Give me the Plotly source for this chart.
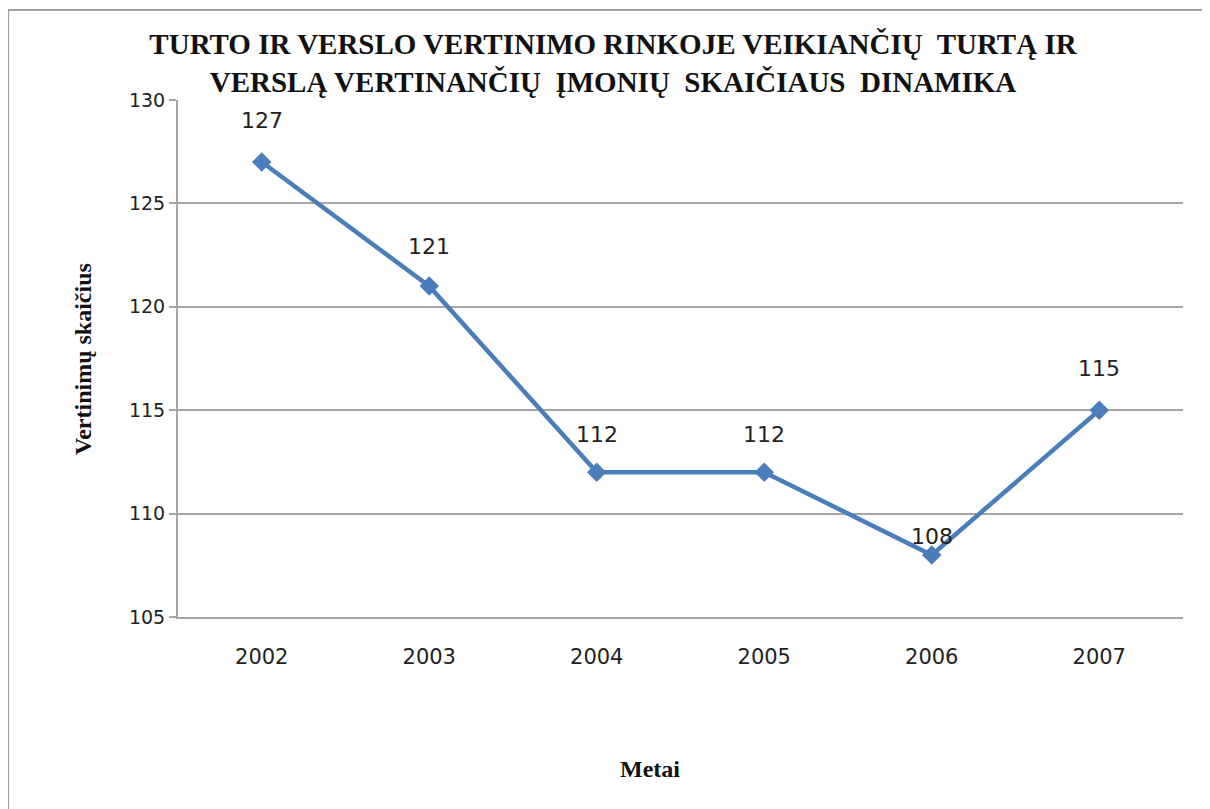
""" Turto ir verslo vertinimo imoniu skaiciaus dinamika """

from plotly import graph_objects as go

years = ["2002", "2003", "2004", "2005", "2006", "2007"]
counts = [127, 121, 112, 112, 108, 115]
y_ticks = [105, 110, 115, 120, 125, 130]

title_text = (
    "TURTO IR VERSLO VERTINIMO RINKOJE VEIKIANČIŲ  TURTĄ IR<br>"
    "VERSLĄ VERTINANČIŲ  ĮMONIŲ  SKAIČIAUS  DINAMIKA"
)
y_title = "Vertinimų skaičius"
x_title = "Metai"

# label offsets above the point (px)
label_shift = [42, 40, 38, 38, 18, 42]

LINE_BLUE = "#4A7EBB"
GRID = "#A6A6A6"
SERIF = "Liberation Serif"
SANS = "DejaVu Sans"

x_pos = list(range(len(years)))

fig = go.Figure()
fig.add_trace(
    go.Scatter(
        x=x_pos,
        y=counts,
        mode="lines+markers",
        line=dict(color=LINE_BLUE, width=4.5),
        marker=dict(symbol="diamond", size=15, color=LINE_BLUE),
        showlegend=False,
        hoverinfo="skip",
    )
)

annotations = [
    dict(
        x=xp,
        y=val,
        text=str(val),
        showarrow=False,
        yshift=shift,
        font=dict(family=SANS, size=22, color="#222222"),
    )
    for xp, val, shift in zip(x_pos, counts, label_shift)
]
annotations.append(
    dict(
        text=f"<b>{y_title}</b>",
        xref="paper",
        yref="paper",
        x=-0.11,
        y=0.5,
        textangle=-90,
        showarrow=False,
        font=dict(family=SERIF, size=24, color="#111111"),
    )
)
annotations.append(
    dict(
        text=f"<b>{x_title}</b>",
        xref="paper",
        yref="paper",
        x=0.47,
        y=-0.323,
        showarrow=False,
        font=dict(family=SERIF, size=24, color="#111111"),
    )
)

fig.update_layout(
    width=1210,
    height=809,
    margin={"l": 170, "r": 35, "t": 92, "b": 200},
    paper_bgcolor="white",
    plot_bgcolor="white",
    title=dict(
        text=f"<b>{title_text}</b>",
        x=0.5,
        xanchor="center",
        y=1 - 46 / 809,
        yanchor="top",
        font=dict(family=SERIF, size=29, color="#111111"),
    ),
    annotations=annotations,
    shapes=[
        dict(
            type="rect",
            xref="paper",
            yref="paper",
            x0=-0.169,
            x1=1.2,
            y0=-0.6,
            y1=1.174,
            line=dict(color="#A0A0A0", width=2),
            layer="below",
        )
    ],
)

fig.update_xaxes(
    range=[-0.5, len(years) - 0.5],
    tickvals=x_pos,
    ticktext=years,
    showgrid=False,
    showline=True,
    linecolor=GRID,
    linewidth=2,
    ticks="",
    zeroline=False,
    tickfont=dict(family=SANS, size=21, color="#222222"),
    ticklabelstandoff=20,
)
fig.update_yaxes(
    range=[105, 130],
    tickvals=y_ticks,
    showgrid=True,
    gridcolor=GRID,
    gridwidth=1.5,
    showline=True,
    linecolor=GRID,
    linewidth=2,
    ticks="outside",
    ticklen=7,
    tickcolor=GRID,
    tickwidth=1.5,
    tickfont=dict(family=SANS, size=19, color="#222222"),
    zeroline=False,
)

fig.write_html("out.html")
